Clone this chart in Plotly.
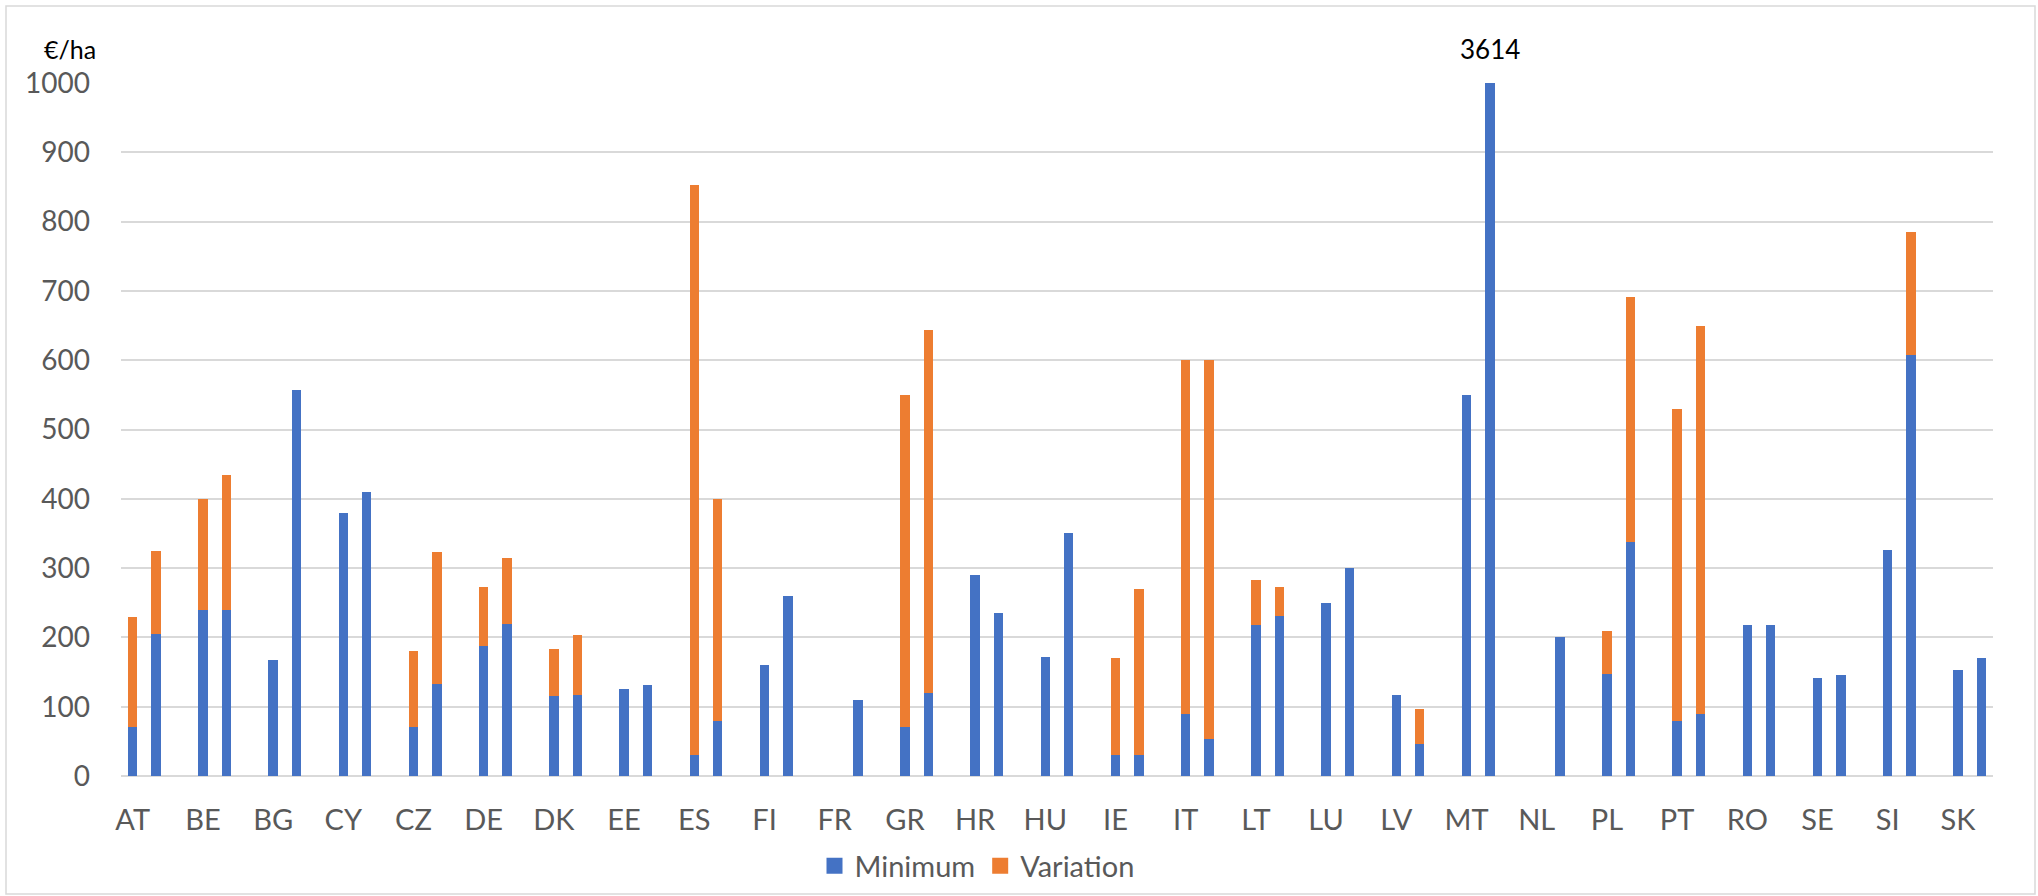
import plotly.graph_objects as go

countries = ["AT", "BE", "BG", "CY", "CZ", "DE", "DK", "EE", "ES", "FI", "FR", "GR", "HR", "HU",
             "IE", "IT", "LT", "LU", "LV", "MT", "NL", "PL", "PT", "RO", "SE", "SI", "SK"]

# first bar of each country
minimum_1 = [70, 240, 168, 380, 70, 188, 116, 125, 30, 160, None, 70, 290, 172,
             30, 90, 218, 250, 117, 550, None, 147, 80, 218, 142, 326, 153]
variation_1 = [160, 160, None, None, 110, 85, 67, None, 823, None, None, 480, None, None,
               140, 510, 65, None, None, None, None, 62, 449, None, None, None, None]
# second bar of each country
minimum_2 = [205, 240, 557, 410, 133, 220, 117, 131, 80, 260, 110, 120, 235, 350,
             30, 53, 231, 300, 46, 3614, 200, 338, 89, 218, 146, 607, 170]
variation_2 = [120, 195, None, None, 190, 94, 87, None, 320, None, None, 524, None, None,
               240, 547, 42, None, 50, None, None, 353, 560, None, None, 178, None]

y_ticks = list(range(0, 1001, 100))
clipped_label = "3614"

BLUE = "#4472C4"
ORANGE = "#ED7D31"
GRID = "#D9D9D9"
TXT = "#595959"
FONT = "Lato, 'Liberation Sans', sans-serif"

# slot positions: 3 slots per country (bar 1, bar 2, gap)
x_pos, mins, vars_ = [], [], []
for i, c in enumerate(countries):
    x_pos += [i * 3, i * 3 + 1]
    mins += [minimum_1[i], minimum_2[i]]
    vars_ += [variation_1[i], variation_2[i]]

fig = go.Figure()
fig.add_trace(go.Bar(x=x_pos, y=mins, name="Minimum", marker=dict(color=BLUE, line=dict(width=0)),
                     width=0.4, showlegend=False))
fig.add_trace(go.Bar(x=x_pos, y=vars_, name="Variation", marker=dict(color=ORANGE, line=dict(width=0)),
                     width=0.4, showlegend=False))
# legend entries with larger square swatches
for name, col in [("Minimum", BLUE), ("Variation", ORANGE)]:
    fig.add_trace(go.Scatter(x=[None], y=[None], mode="markers", name=name,
                             marker=dict(symbol="square", size=18, color=col)))

W, H = 2038, 896
L, R, T, B = 121, 45, 83, 120
pw, ph = W - L - R, H - T - B

def px(x):
    return (x - L) / pw

def py(y):
    return (H - B - y) / ph

mt_idx = countries.index("MT")
fig.add_annotation(x=mt_idx * 3 + 1, y=1000, text=clipped_label, showarrow=False,
                   yanchor="bottom", yshift=16, font=dict(size=26, color="black", family=FONT))
fig.add_annotation(x=px(42), y=py(66), xref="paper", yref="paper", text="€/ha", showarrow=False,
                   xanchor="left", yanchor="bottom", font=dict(size=25, color="black", family=FONT))

fig.add_shape(type="rect", xref="paper", yref="paper", x0=px(6), x1=px(2035), y0=py(894), y1=py(6),
              line=dict(color=GRID, width=1.5), fillcolor="rgba(0,0,0,0)", layer="below")

fig.update_layout(
    width=W, height=H,
    margin=dict(l=L, r=R, t=T, b=B, pad=0, autoexpand=False),
    barmode="stack",
    plot_bgcolor="white", paper_bgcolor="white",
    font=dict(family=FONT, size=28, color=TXT),
    showlegend=True,
    legend=dict(orientation="h", xref="container", yref="container",
                x=977 / W, xanchor="center", y=1 - 866 / H, yanchor="middle",
                font=dict(size=29, color=TXT), traceorder="normal", itemwidth=30,
                bgcolor="rgba(0,0,0,0)"),
    xaxis=dict(range=[-0.5, len(countries) * 3 - 1.5], tickmode="array",
               tickvals=[i * 3 for i in range(len(countries))], ticktext=countries,
               showgrid=False, zeroline=False, showline=False, ticks="",
               ticklabelstandoff=24, tickfont=dict(size=29, color=TXT), automargin=False),
    yaxis=dict(range=[0, 1000], tickmode="array", tickvals=y_ticks,
               showgrid=True, gridcolor=GRID, gridwidth=1.5, zeroline=True, zerolinecolor=GRID,
               zerolinewidth=1.5, showline=False, ticks="", ticklabelstandoff=30,
               tickfont=dict(size=28, color=TXT), automargin=False),
)

fig.write_html("out.html", config={"displayModeBar": False},
               post_script="document.body.style.margin='0';document.body.style.overflow='hidden';")
